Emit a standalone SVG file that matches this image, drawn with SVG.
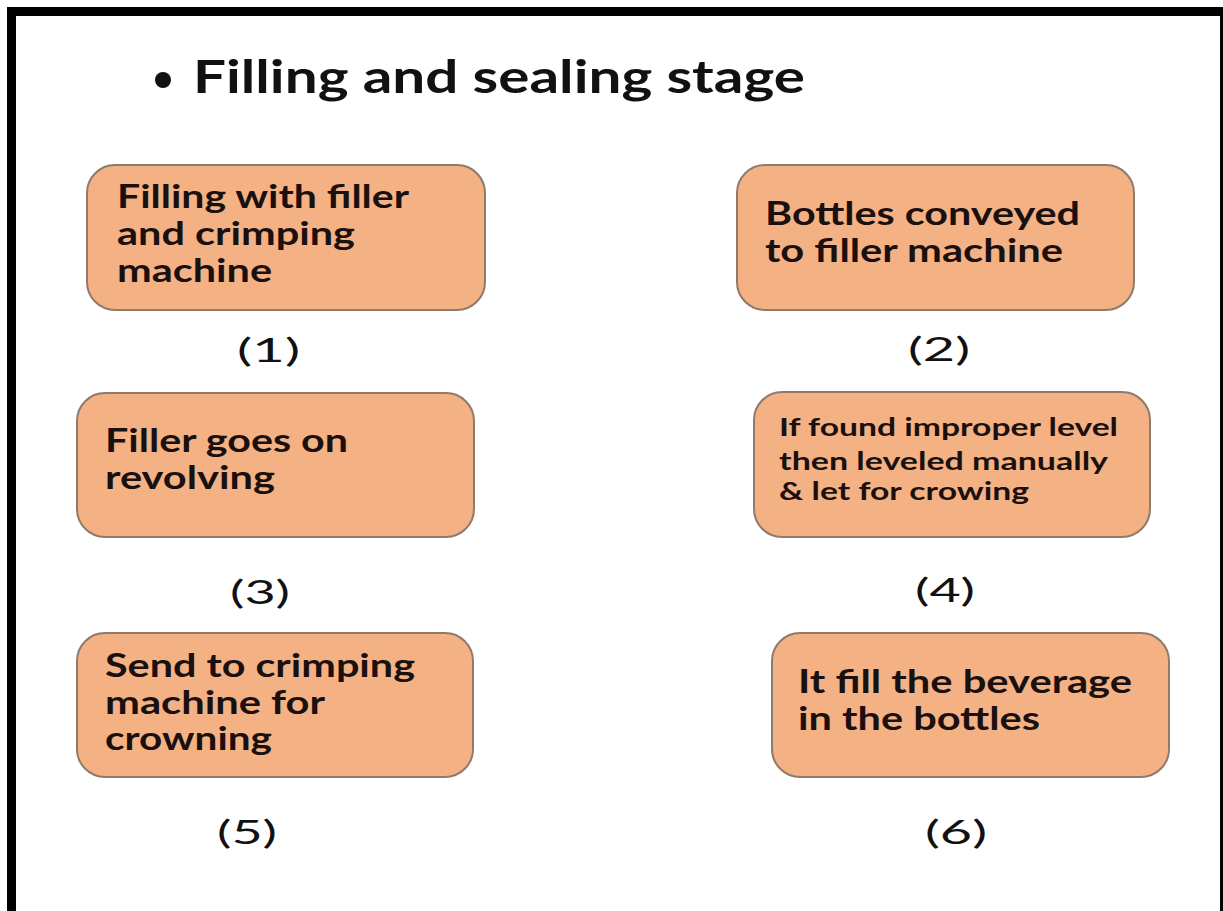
<svg xmlns="http://www.w3.org/2000/svg" width="1223" height="911" viewBox="0 0 1223 911">
<style>
.box{fill:#F4B183;stroke:#8f7a6b;stroke-width:2}
.t{font-family:Lato,"Open Sans","Liberation Sans",sans-serif;font-weight:bold;font-size:32px;fill:#1a1010}
.s{font-size:25px}
.n{font-family:Lato,"Open Sans","Liberation Sans",sans-serif;font-size:33px;fill:#111}
.title{font-family:Lato,"Open Sans","Liberation Sans",sans-serif;font-weight:bold;font-size:46px;fill:#111}
</style>
<rect width="1223" height="911" fill="#fff"/>
<g id="frame" fill="#000">
<rect x="7" y="7" width="1216" height="9"/>
<rect x="7" y="7" width="9" height="904"/>
<rect x="1220" y="7" width="3" height="904"/>
</g>
<g id="title">
<circle cx="163" cy="80" r="8" fill="#111"/>
<text class="title" x="193" y="93" textLength="612" lengthAdjust="spacingAndGlyphs">Filling and sealing stage</text>
</g>
<g id="connectors"></g>
<g id="node1">
<rect class="box" x="87" y="165" width="398" height="145" rx="28"/>
<text class="t" x="117" y="208" textLength="292" lengthAdjust="spacingAndGlyphs">Filling with filler</text>
<text class="t" x="117" y="245" textLength="238" lengthAdjust="spacingAndGlyphs">and crimping</text>
<text class="t" x="117" y="282" textLength="155" lengthAdjust="spacingAndGlyphs">machine</text>
<text class="n" x="237" y="362" textLength="63" lengthAdjust="spacingAndGlyphs">(1)</text>
</g>
<g id="node2">
<rect class="box" x="737" y="165" width="397" height="145" rx="28"/>
<text class="t" x="765" y="225" textLength="315" lengthAdjust="spacingAndGlyphs">Bottles conveyed</text>
<text class="t" x="765" y="262" textLength="298" lengthAdjust="spacingAndGlyphs">to filler machine</text>
<text class="n" x="908" y="361" textLength="62" lengthAdjust="spacingAndGlyphs">(2)</text>
</g>
<g id="node3">
<rect class="box" x="77" y="393" width="397" height="144" rx="28"/>
<text class="t" x="105" y="452" textLength="243" lengthAdjust="spacingAndGlyphs">Filler goes on</text>
<text class="t" x="105" y="489" textLength="170" lengthAdjust="spacingAndGlyphs">revolving</text>
<text class="n" x="230" y="604" textLength="60" lengthAdjust="spacingAndGlyphs">(3)</text>
</g>
<g id="node4">
<rect class="box" x="754" y="392" width="396" height="145" rx="28"/>
<text class="t s" x="779" y="436" textLength="339" lengthAdjust="spacingAndGlyphs">If found improper level</text>
<text class="t s" x="779" y="470" textLength="329" lengthAdjust="spacingAndGlyphs">then leveled manually</text>
<text class="t s" x="779" y="500" textLength="250" lengthAdjust="spacingAndGlyphs">&amp; let for crowing</text>
<text class="n" x="915" y="602" textLength="60" lengthAdjust="spacingAndGlyphs">(4)</text>
</g>
<g id="node5">
<rect class="box" x="77" y="633" width="396" height="144" rx="28"/>
<text class="t" x="105" y="677" textLength="310" lengthAdjust="spacingAndGlyphs">Send to crimping</text>
<text class="t" x="105" y="714" textLength="220" lengthAdjust="spacingAndGlyphs">machine for</text>
<text class="t" x="105" y="750" textLength="167" lengthAdjust="spacingAndGlyphs">crowning</text>
<text class="n" x="217" y="844" textLength="60" lengthAdjust="spacingAndGlyphs">(5)</text>
</g>
<g id="node6">
<rect class="box" x="772" y="633" width="397" height="144" rx="28"/>
<text class="t" x="798" y="693" textLength="334" lengthAdjust="spacingAndGlyphs">It fill the beverage</text>
<text class="t" x="798" y="730" textLength="242" lengthAdjust="spacingAndGlyphs">in the bottles</text>
<text class="n" x="925" y="844" textLength="62" lengthAdjust="spacingAndGlyphs">(6)</text>
</g>
</svg>
